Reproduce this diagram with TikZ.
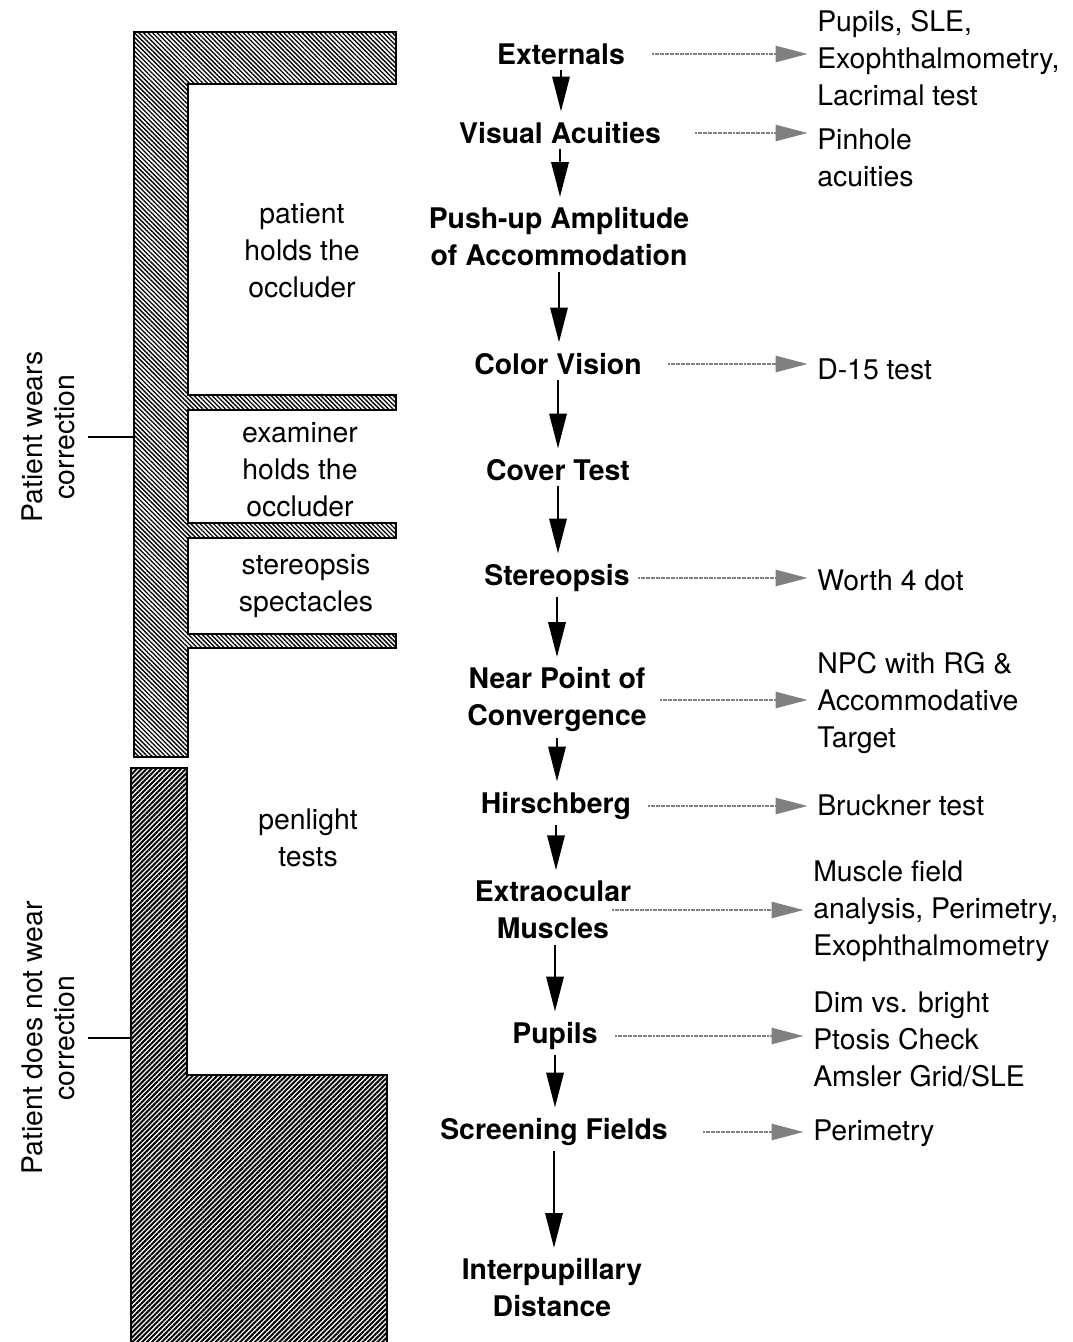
\documentclass[tikz,border=0pt]{standalone}
\usepackage{fontspec}
\setmainfont{TeX Gyre Heros}
\usetikzlibrary{arrows.meta,patterns.meta}

\begin{document}
\begin{tikzpicture}[x=0.75pt, y=-0.75pt,
    main/.style={font=\fontsize{21.3}{27.75}\selectfont\bfseries, align=center, inner sep=0pt},
    note/.style={font=\fontsize{21.3}{27.75}\selectfont, align=center, inner sep=0pt},
    alt/.style={font=\fontsize{21.3}{27.75}\selectfont, align=left, anchor=west, inner sep=0pt},
    side/.style={font=\fontsize{21.3}{24}\selectfont, align=center, rotate=90, inner sep=0pt},
    flow/.style={-{Triangle[length=26pt,width=13pt]}, line width=1.5pt, shorten <=4pt, shorten >=8pt},
    ref/.style={-{Triangle[length=24pt,width=12pt]}, draw=black!50, line width=1.8pt,
        dash pattern=on 1.5pt off 0.4pt, shorten >=7pt},
    tick/.style={line width=1.5pt, shorten <=10pt},
    light/.style={pattern={Lines[angle=-45,distance=2.4pt,line width=1pt]}},
    dark/.style={pattern={Lines[angle=45,distance=2.6pt,line width=1.5pt]}}]
    \useasboundingbox (0,0) rectangle (1073,1342);
% hatched bars
\filldraw[light, line width=1.5pt] (134,32) -- (396,32) -- (396,84) -- (188,84) -- (188,395)
    -- (396,395) -- (396,410) -- (188,410) -- (188,523) -- (396,523) -- (396,538) -- (188,538)
    -- (188,634) -- (396,634) -- (396,648) -- (188,648) -- (188,757) -- (134,757) -- cycle;
\fill[dark] (131,768) -- (187,768) -- (187,1075) -- (387,1075) -- (387,1342) -- (131,1342) -- cycle;
\draw[line width=1.5pt] (131,1342) -- (131,768) -- (187,768) -- (187,1075) -- (387,1075) -- (387,1342);
% left labels
\node[side] (pwc) at (48,437) {Patient wears\\correction};
\node[side] (pnw) at (48,1038) {Patient does not wear\\correction};
\coordinate (wear) at (134,437);
\coordinate (nowear) at (131,1038);
\draw[tick] (pwc.south) -- (wear);
\draw[tick] (pnw.south) -- (nowear);
% who holds what
\node[note] (phold) at (302,251) {patient\\holds the\\occluder};
\node[note] (ehold) at (300,470) {examiner\\holds the\\occluder};
\node[note] (spec) at (306,586) {stereopsis\\spectacles};
\node[note] (pen) at (308,838) {penlight\\tests};
% main sequence
\node[main] (ext) at (561,54) {Externals};
\node[main] (va) at (560,133) {Visual Acuities};
\node[main] (amp) at (559,237) {Push-up Amplitude\\of Accommodation};
\node[main] (cv) at (558,364) {Color Vision};
\node[main] (ct) at (558,470) {Cover Test};
\node[main] (st) at (557,578) {Stereopsis};
\node[main] (npc) at (557,700) {Near Point of\\Convergence};
\node[main] (hb) at (556,806) {Hirschberg};
\node[main] (eom) at (553,910) {Extraocular\\Muscles};
\node[main] (pup) at (555,1036) {Pupils};
\node[main] (sf) at (554,1132) {Screening Fields};
\node[main] (ipd) at (552,1288) {Interpupillary\\Distance};
\draw[flow] (ext.south) -- (ext.south |- va.north);
\draw[flow] (va.south) -- (va.south |- amp.north);
\draw[flow] (amp.south) -- (amp.south |- cv.north);
\draw[flow] (cv.south) -- (cv.south |- ct.north);
\draw[flow] (ct.south) -- (ct.south |- st.north);
\draw[flow] (st.south) -- (st.south |- npc.north);
\draw[flow] (npc.south) -- (npc.south |- hb.north);
\draw[flow] (hb.south) -- (hb.south |- eom.north);
\draw[flow] (pup.north |- eom.south) -- (pup.north);
\draw[flow] (pup.south) -- (pup.south |- sf.north);
\draw[flow] (sf.south) -- (sf.south |- ipd.north);
% follow-up tests
\node[alt] (extx) at (817,58) {Pupils, SLE,\\Exophthalmometry,\\Lacrimal test};
\node[alt] (vax) at (817,158) {Pinhole\\acuities};
\node[alt] (cvx) at (817,369) {D-15 test};
\node[alt] (stx) at (817,580) {Worth 4 dot};
\node[alt] (npcx) at (817,703) {NPC with RG \&\\Accommodative\\Target};
\node[alt] (hbx) at (817,805) {Bruckner test};
\node[alt] (eomx) at (813,911) {Muscle field\\analysis, Perimetry,\\Exophthalmometry};
\node[alt] (pupx) at (813,1039) {Dim vs. bright\\Ptosis Check\\Amsler Grid/SLE};
\node[alt] (sfx) at (813,1133) {Perimetry};
\draw[ref] (652,0 |- ext) -- (ext -| extx.west);
\draw[ref] (695,0 |- va) -- (va -| vax.west);
\draw[ref] (668,0 |- cv) -- (cv -| cvx.west);
\draw[ref] (638,0 |- st) -- (st -| stx.west);
\draw[ref] (660,0 |- npc) -- (npc -| npcx.west);
\draw[ref] (648,0 |- hb) -- (hb -| hbx.west);
\draw[ref] (612,0 |- eom) -- (eom -| eomx.west);
\draw[ref] (615,0 |- pup) -- (pup -| pupx.west);
\draw[ref] (703,0 |- sf) -- (sf -| sfx.west);
    \end{tikzpicture}
\end{document}
